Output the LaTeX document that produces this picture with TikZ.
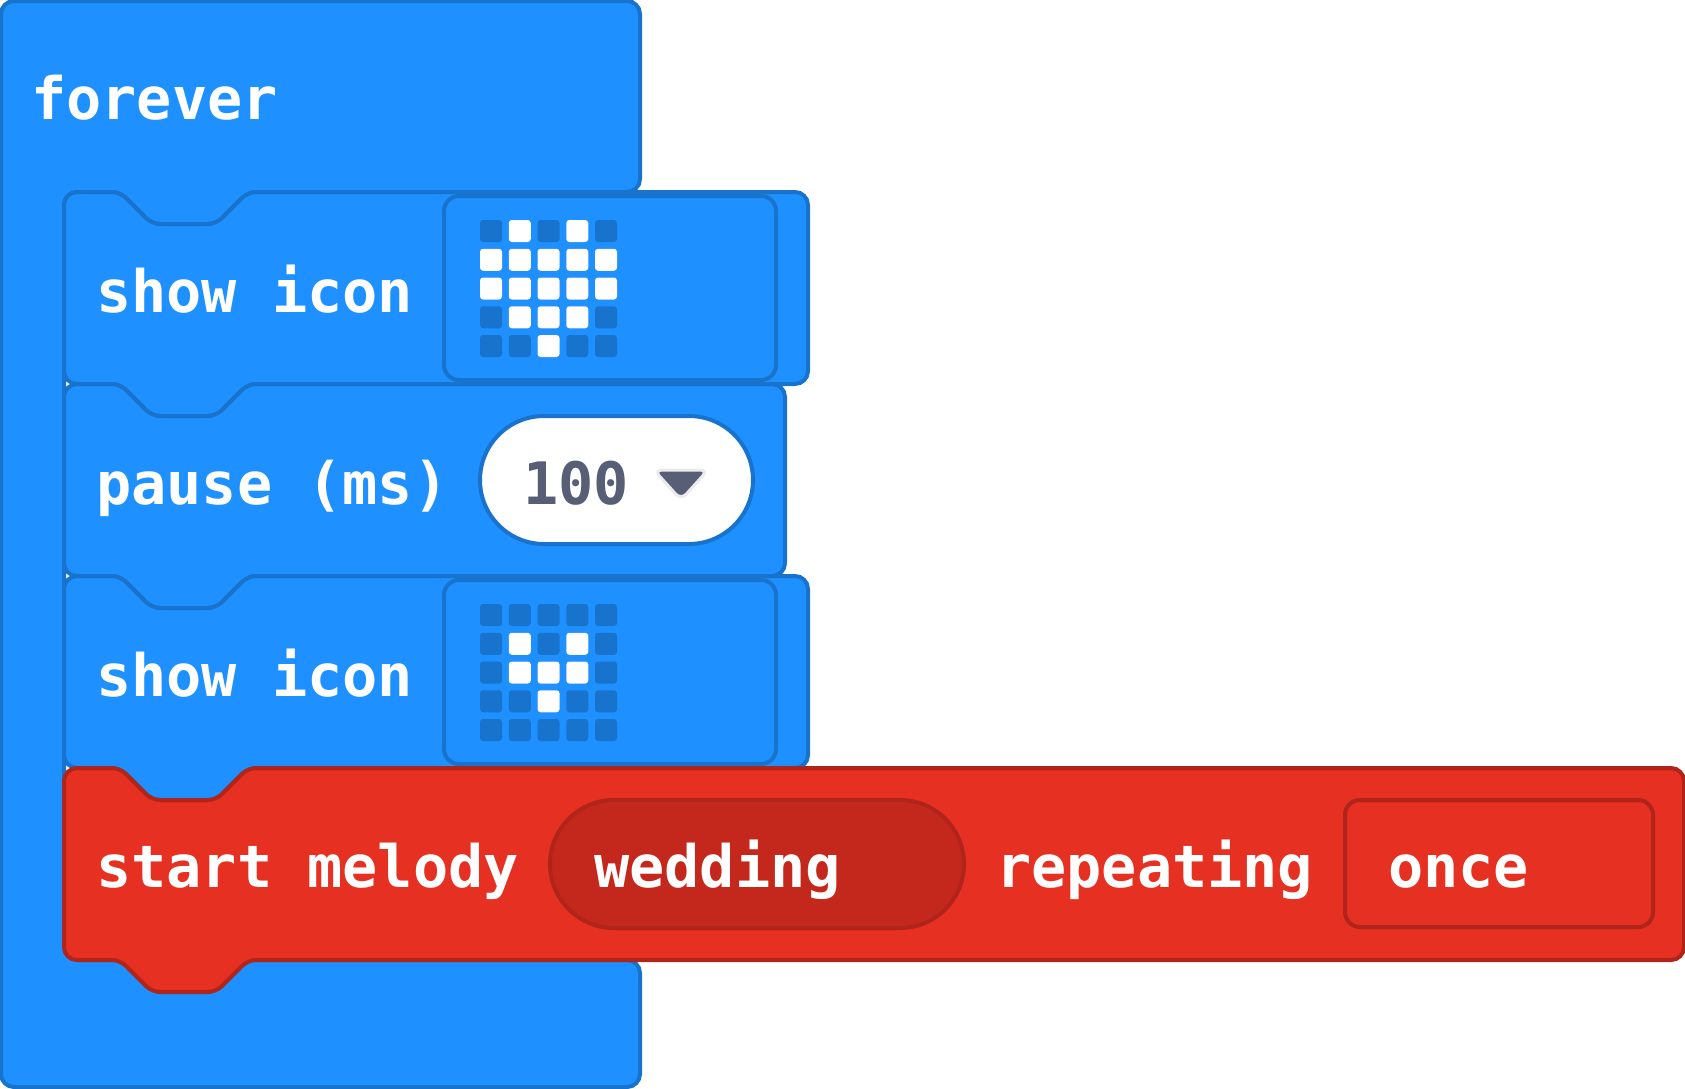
\documentclass[tikz,border=0pt]{standalone}
\usepackage{fontspec}
\setmonofont{DejaVu Sans Mono}
\usepackage{xcolor}
\usetikzlibrary{positioning}
\definecolor{loopcolor}{HTML}{1E90FF}
\definecolor{loopedge}{HTML}{1873CC}
\definecolor{musiccolor}{HTML}{E63022}
\definecolor{musicedge}{HTML}{B0241A}
\definecolor{musicfield}{HTML}{C4281C}
\definecolor{valuecolor}{HTML}{575E75}
\definecolor{caretedge}{HTML}{EBEBED}
% #1 right side, #2 top, #3 bottom
\newcommand{\blockpath}[3]{
    (64,#2+60) [rounded corners=13pt] -- (64,#2) [rounded corners=8pt] -- (120,#2) -- (152,#2+32) -- (216,#2+32) -- (248,#2)
    [rounded corners=13pt] -- (#1,#2) -- (#1,#3) [rounded corners=8pt] -- (248,#3) -- (216,#3+32) -- (152,#3+32) -- (120,#3)
    [rounded corners=13pt] -- (64,#3) -- cycle
}
% #1 top of the grid, #2 lit cells
\newcommand{\ledgrid}[2]{
    \foreach \cx in {0,...,4} \foreach \cy in {0,...,4}
        \fill[loopedge, rounded corners=3pt] (480+28.75*\cx,#1+28.75*\cy) rectangle ++(22,22);
    \foreach \cx/\cy in {#2}
        \fill[white, rounded corners=3pt] (480+28.75*\cx,#1+28.75*\cy) rectangle ++(22,22);
}
\begin{document}
\begin{tikzpicture}[
    x=1pt,
    y=-1pt,
    loopblock/.style={draw=loopedge, fill=loopcolor, line width=4pt},
    musicblock/.style={draw=musicedge, fill=musiccolor, line width=4pt},
    fieldbox/.style={draw=loopedge, line width=4pt, rounded corners=15pt, inner sep=0pt},
    label/.style={anchor=base west, inner sep=0pt, text=white, font=\ttfamily\bfseries\fontsize{58.5}{58.5}\selectfont}
]
    \useasboundingbox (0,0) rectangle (1685,1088);

    % Forever
    \draw[loopblock] (1,60) [rounded corners=13pt] -- (1,1) -- (640,1) -- (640,192) [rounded corners=8pt] -- (248,192) -- (216,224) -- (152,224) -- (120,192)
        [rounded corners=13pt] -- (64,192) -- (64,960) -- (640,960) -- (640,1087) -- (1,1087) -- cycle;
    \node[label] (forever) at (31,119) {forever};

    % Show icon
    \draw[loopblock] \blockpath{808}{192}{384};
    \node[label] (showa) at (96,312) {show icon};
    \node[fieldbox, minimum width=332pt, minimum height=184pt] (icona) at (610,288) {};
    \ledgrid{220}{1/0,3/0,0/1,1/1,2/1,3/1,4/1,0/2,1/2,2/2,3/2,4/2,1/3,2/3,3/3,2/4}

    % Pause
    \draw[loopblock] \blockpath{785}{384}{576};
    \node[label] (pause) at (96,504) {pause (ms)};
    \node[fieldbox, fill=white, rounded corners=64pt, minimum width=273pt, minimum height=128pt] (pill) at (616.5,480) {};
    \node[label, text=valuecolor] (pausevalue) at (523,504) {100};
    \filldraw[draw=caretedge, fill=valuecolor, line width=3pt, rounded corners=8pt] (681,470) -- (708,470) -- (681,500) -- (654,470) -- cycle;

    % Show icon
    \draw[loopblock] \blockpath{808}{576}{768};
    \node[label] (showb) at (96,696) {show icon};
    \node[fieldbox, minimum width=332pt, minimum height=184pt] (iconb) at (610,672) {};
    \ledgrid{604}{1/1,3/1,1/2,2/2,3/2,2/3}

    % Start melody
    \draw[musicblock] \blockpath{1684}{768}{960};
    \node[label] (start) at (96,887) {start melody};
    \node[fieldbox, draw=musicedge, fill=musicfield, rounded corners=64pt, minimum width=414pt, minimum height=128pt] (tune) at (757,864) {};
    \node[label] (wedding) at (594,887) {wedding};
    \node[label] (repeating) at (996,887) {repeating};
    \node[fieldbox, draw=musicedge, minimum width=308pt, minimum height=127pt] (mode) at (1499,863.5) {};
    \node[label] (once) at (1388,887) {once};
\end{tikzpicture}
\end{document}
